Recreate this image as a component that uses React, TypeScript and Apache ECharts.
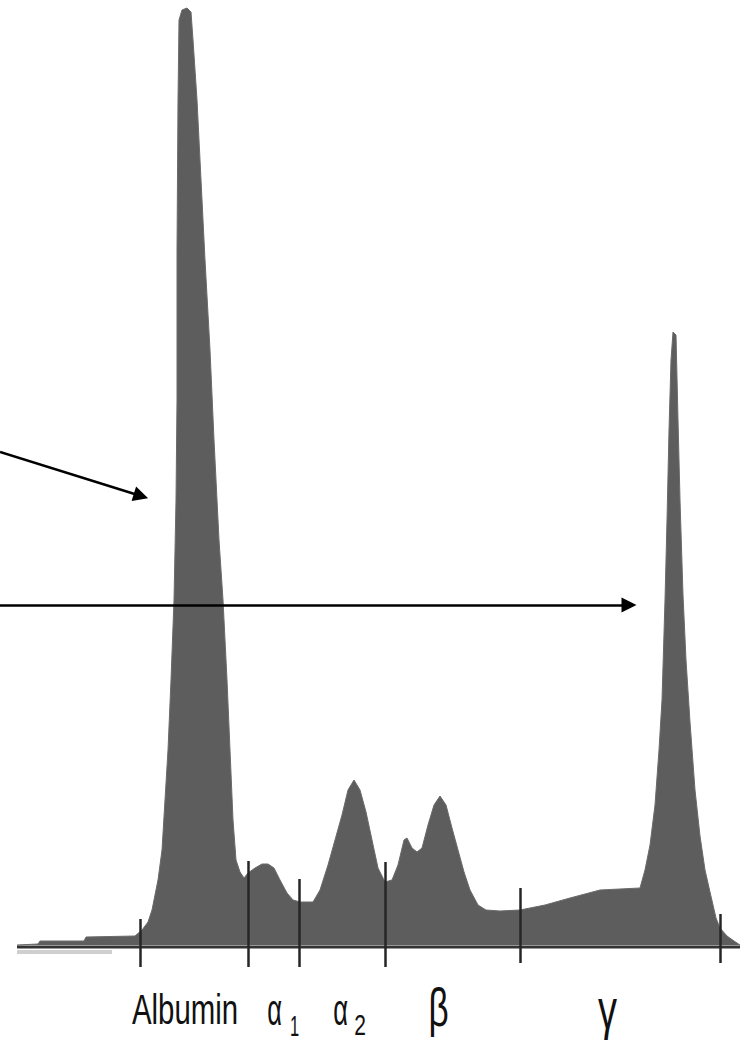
import React, { useEffect, useRef } from "react";
import * as echarts from "echarts";

// Densitometric trace: x position along the strip and height above the baseline
const curveX = [
  17, 38, 40, 84, 86, 135, 142, 148, 152, 155, 158, 162, 165, 168, 171, 174, 176, 177, 177, 178,
  179, 182, 187, 191, 193, 197, 201, 205, 210, 214, 216, 219, 223, 227, 230, 233, 236, 240, 244, 248,
  255, 262, 268, 274, 280, 287, 293, 300, 313, 320, 328, 335, 342, 348, 354, 360, 366, 372, 378, 385,
  392, 398, 404, 407, 412, 417, 422, 428, 434, 440, 446, 452, 458, 464, 470, 478, 486, 500, 520, 545,
  570, 600, 640, 645, 650, 655, 659, 662, 665, 667, 669, 671, 673, 676, 678, 680, 683, 686, 690, 695,
  700, 705, 710, 716, 720, 727, 734, 740,
];
const curveH = [
  0, 1, 4, 4, 8, 9, 15, 23, 35, 50, 65, 95, 145, 195, 265, 345, 445, 545, 695, 845,
  925, 935, 937, 933, 905, 845, 765, 685, 595, 505, 465, 405, 345, 265, 195, 125, 85, 73, 67, 72,
  77, 81, 81, 77, 65, 52, 45, 43, 43, 55, 80, 105, 130, 155, 165, 155, 133, 105, 77, 63,
  65, 80, 105, 107, 97, 93, 97, 120, 140, 149, 140, 117, 95, 73, 55, 40, 35, 34, 35, 40,
  47, 55, 57, 75, 100, 140, 195, 245, 345, 425, 515, 585, 613, 610, 525, 445, 350, 285, 223, 155,
  109, 75, 53, 27, 17, 9, 4, 0,
];

// Fraction boundaries (tick marks)
const tickX = [140, 248, 299, 385, 520, 720];
const tickTop = [26, 84, 66, 83, 57, 31];
const tickBottom = [-22, -22, -22, -22, -18, -18];

// Baseline
const baseX = [17, 740];
const baseH = [-2, -2];
const shadowX = [17, 112];
const shadowH = [-7, -7];

// Arrows (start, end)
const arrowStart = [
  [0, 493],
  [0, 340],
];
const arrowEnd = [
  [141, 449],
  [629, 340],
];

// Fraction labels
const labelText = ["Albumin", "α", "1", "α", "2", "β", "γ"];
const labelX = [185, 274.5, 294.5, 340.5, 360, 438.5, 607.5];
const labelH = [-65, -65, -80, -65, -80, -63, -64];
const labelFont = [42, 44, 30, 44, 30, 54, 56];
const labelScale = [0.7, 0.58, 0.55, 0.58, 0.7, 0.65, 0.68];

const FILL = "#5d5d5d";

export default function App() {
  const ref = useRef<HTMLDivElement>(null);

  useEffect(() => {
    if (!ref.current) return;
    const chart = echarts.init(ref.current, undefined, { renderer: "svg" });

    const curve = curveX.map((x, i) => [x, curveH[i]]);
    const base = baseX.map((x, i) => [x, baseH[i]]);
    const shadow = shadowX.map((x, i) => [x, shadowH[i]]);

    const tickLines = tickX.map((x, i) => [
      { coord: [x, tickTop[i]] },
      { coord: [x, tickBottom[i]] },
    ]);
    const arrowLines = arrowStart.map((s, i) => [{ coord: s }, { coord: arrowEnd[i] }]);

    chart.setOption({
      animation: false,
      grid: { left: 0, right: 0, top: 0, bottom: 0, containLabel: false },
      xAxis: { type: "value", min: 0, max: 749, show: false },
      yAxis: { type: "value", min: -96, max: 945, show: false },
      series: [
        {
          type: "line",
          data: shadow,
          symbol: "none",
          silent: true,
          lineStyle: { color: "#cfcfcf", width: 4 },
          z: 1,
        },
        {
          type: "line",
          data: curve,
          symbol: "none",
          silent: true,
          smooth: false,
          lineStyle: { color: "#6a6a6a", width: 1 },
          areaStyle: { color: FILL, opacity: 1 },
          z: 2,
        },
        {
          type: "line",
          data: base,
          symbol: "none",
          silent: true,
          lineStyle: { color: "#333333", width: 3 },
          z: 3,
          markLine: {
            silent: true,
            symbol: ["none", "none"],
            label: { show: false },
            emphasis: { disabled: true },
            lineStyle: { color: "#262626", width: 2.5, type: "solid" },
            data: tickLines,
          },
        },
        {
          type: "line",
          data: [],
          symbol: "none",
          silent: true,
          z: 4,
          markLine: {
            silent: true,
            symbol: ["none", "triangle"],
            symbolSize: 15,
            label: { show: false },
            emphasis: { disabled: true },
            lineStyle: { color: "#000000", width: 2.5, type: "solid" },
            data: arrowLines,
          },
        },
      ],
    });

    const texts = labelText.map((t, i) => {
      const p = chart.convertToPixel({ gridIndex: 0 }, [labelX[i], labelH[i]]) as number[];
      return {
        type: "text",
        x: p[0],
        y: p[1],
        scaleX: labelScale[i],
        silent: true,
        z: 10,
        style: {
          text: t,
          fontSize: labelFont[i],
          fontFamily: "Liberation Sans, Arial, sans-serif",
          fill: "#111111",
          align: "center",
          verticalAlign: "middle",
          textAlign: "center",
          textVerticalAlign: "middle",
        },
      };
    });
    chart.setOption({ graphic: texts });

    return () => chart.dispose();
  }, []);

  return (
    <div
      ref={ref}
      style={{ position: "fixed", left: 0, top: 0, width: 749, height: 1041, background: "#ffffff" }}
    />
  );
}
